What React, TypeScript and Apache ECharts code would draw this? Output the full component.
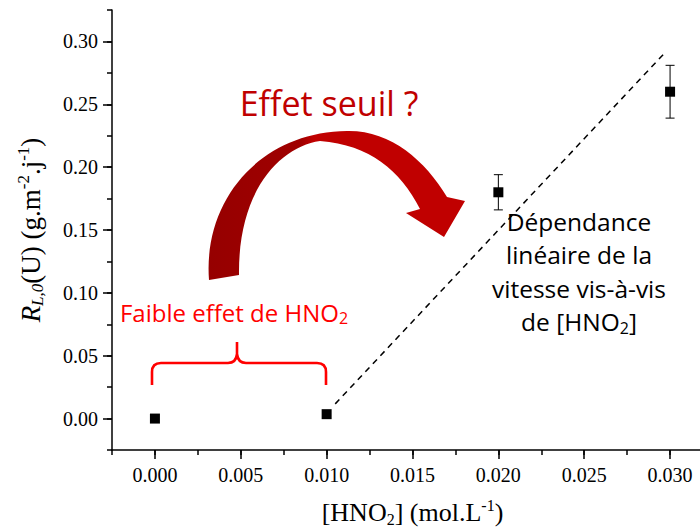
import React, { useEffect, useRef } from 'react';
import * as echarts from 'echarts';

// ---- data ----
const concentrations = [0.0, 0.01, 0.02, 0.03]; // [HNO2] mol/L
const rates = [0.0, 0.0035, 0.18, 0.26]; // R_L,0(U)
const rateErrors = [0, 0, 0.014, 0.021];
const trendX = [0.0105, 0.0296];
const trendY = [0.0117, 0.2896];

// axis extents
const X_MIN = -0.0025;
const X_MAX = 0.0325;
const Y_MIN = -0.025;
const Y_MAX = 0.325;
const X_MAJOR_MIN = 0;
const X_MAJOR_MAX = 0.03;
const Y_MAJOR_MIN = 0;
const Y_MAJOR_MAX = 0.3;

// layout
const GRID_LEFT = 112;
const GRID_TOP = 10;
const GRID_W = 601;
const GRID_H = 440;

const ARROW_D =
  'M209 280 C203 200 260 132 347 131 C390 130 425 160 447 197 L465 201 L444 237 L406 213 L420 209 C400 170 370 145 320 141 C280 147 238 190 239 275 Z';
const BRACE_D =
  'M152 385 L152 372 Q152 363 161 363 L228 363 Q236 363 237 354 L237 342 M237 354 Q238 363 246 363 L317 363 Q326 363 326 372 L326 385';

let registered = false;
function registerShapes() {
  if (registered) return;
  echarts.graphic.registerShape('curvedArrow', echarts.graphic.extendPath(ARROW_D, {}));
  echarts.graphic.registerShape('redBrace', echarts.graphic.extendPath(BRACE_D, {}));
  registered = true;
}

const SERIF = '"Liberation Serif", "Times New Roman", serif';
const SANS = '"Open Sans", Lato, sans-serif';

export default function App() {
  const ref = useRef<HTMLDivElement>(null);

  useEffect(() => {
    document.body.style.margin = '0';
    registerShapes();
    const chart = echarts.init(ref.current!, null, { renderer: 'svg' });

    const pxX = GRID_W / (X_MAX - X_MIN);
    const pxY = GRID_H / (Y_MAX - Y_MIN);
    const g2Left = GRID_LEFT + (X_MAJOR_MIN - X_MIN) * pxX;
    const g2Width = (X_MAJOR_MAX - X_MAJOR_MIN) * pxX;
    const g2Top = GRID_TOP + (Y_MAX - Y_MAJOR_MAX) * pxY;
    const g2Height = (Y_MAJOR_MAX - Y_MAJOR_MIN) * pxY;
    const xOffset = GRID_TOP + GRID_H - (g2Top + g2Height);
    const yOffset = g2Left - GRID_LEFT;

    const axisLineStyle = { color: '#000', width: 1.5 };

    const option: any = {
      animation: false,
      backgroundColor: '#fff',
      grid: [
        { left: GRID_LEFT, top: GRID_TOP, width: GRID_W, height: GRID_H, containLabel: false, outerBoundsMode: 'none' },
        { left: g2Left, top: g2Top, width: g2Width, height: g2Height, containLabel: false, outerBoundsMode: 'none' },
      ],
      xAxis: [
        {
          type: 'value',
          gridIndex: 0,
          min: X_MIN,
          max: X_MAX,
          interval: 0.0025,
          axisLine: { show: true, onZero: false, lineStyle: axisLineStyle },
          axisTick: { show: true, inside: false, length: 5, lineStyle: axisLineStyle },
          axisLabel: { show: false },
          splitLine: { show: false },
        },
        {
          type: 'value',
          gridIndex: 1,
          min: X_MAJOR_MIN,
          max: X_MAJOR_MAX,
          interval: 0.005,
          offset: xOffset,
          axisLine: { show: false, onZero: false },
          axisTick: { show: true, inside: false, length: 9, lineStyle: axisLineStyle },
          axisLabel: {
            show: true,
            margin: 15,
            fontFamily: SERIF,
            fontSize: 20,
            color: '#000',
            formatter: (v: number) => v.toFixed(3),
          },
          splitLine: { show: false },
          name: '{m|[HNO}{s|2}{m|] (mol.L}{p|-1}{m|)}',
          nameLocation: 'middle',
          nameGap: 47,
          nameTextStyle: {
            rich: {
              m: { fontFamily: SERIF, fontSize: 26, lineHeight: 30, color: '#000' },
              s: { fontFamily: SERIF, fontSize: 16, lineHeight: 16, verticalAlign: 'bottom', color: '#000' },
              p: { fontFamily: SERIF, fontSize: 16, lineHeight: 16, verticalAlign: 'top', color: '#000' },
            },
          },
        },
      ],
      yAxis: [
        {
          type: 'value',
          gridIndex: 0,
          min: Y_MIN,
          max: Y_MAX,
          interval: 0.025,
          axisLine: { show: true, onZero: false, lineStyle: axisLineStyle },
          axisTick: { show: true, inside: false, length: 5, lineStyle: axisLineStyle },
          axisLabel: { show: false },
          splitLine: { show: false },
          name: '{i|R}{is|L,0}{m|(U) (g.m}{p|-2}{m|.j}{p|-1}{m|)}',
          nameLocation: 'middle',
          nameRotate: 90,
          nameGap: 66,
          nameTextStyle: {
            rich: {
              i: { fontFamily: SERIF, fontStyle: 'italic', fontSize: 27, lineHeight: 31, color: '#000' },
              is: { fontFamily: SERIF, fontStyle: 'italic', fontSize: 17, lineHeight: 17, verticalAlign: 'bottom', color: '#000' },
              m: { fontFamily: SERIF, fontSize: 27, lineHeight: 31, color: '#000' },
              p: { fontFamily: SERIF, fontSize: 17, lineHeight: 17, verticalAlign: 'top', color: '#000' },
            },
          },
        },
        {
          type: 'value',
          gridIndex: 1,
          min: Y_MAJOR_MIN,
          max: Y_MAJOR_MAX,
          interval: 0.05,
          offset: yOffset,
          axisLine: { show: false, onZero: false },
          axisTick: { show: true, inside: false, length: 9, lineStyle: axisLineStyle },
          axisLabel: {
            show: true,
            margin: 14,
            fontFamily: SERIF,
            fontSize: 20,
            color: '#000',
            formatter: (v: number) => v.toFixed(2),
          },
          splitLine: { show: false },
        },
      ],
      series: [
        {
          type: 'line',
          xAxisIndex: 0,
          yAxisIndex: 0,
          data: trendX.map((x, i) => [x, trendY[i]]),
          symbol: 'none',
          lineStyle: { color: '#000', width: 1.5, type: [6, 5] },
          z: 2,
        },
        {
          type: 'custom',
          xAxisIndex: 0,
          yAxisIndex: 0,
          data: concentrations.map((c, i) => [c, rates[i], rateErrors[i]]),
          renderItem: (params: any, api: any) => {
            const x = api.value(0);
            const y = api.value(1);
            const e = api.value(2);
            if (!e) return null;
            const top = api.coord([x, y + e]);
            const bot = api.coord([x, y - e]);
            const hw = 4.5;
            const st = { stroke: '#000', lineWidth: 1 };
            return {
              type: 'group',
              children: [
                { type: 'line', shape: { x1: top[0], y1: top[1], x2: bot[0], y2: bot[1] }, style: st },
                { type: 'line', shape: { x1: top[0] - hw, y1: top[1], x2: top[0] + hw, y2: top[1] }, style: st },
                { type: 'line', shape: { x1: bot[0] - hw, y1: bot[1], x2: bot[0] + hw, y2: bot[1] }, style: st },
              ],
            };
          },
          z: 3,
        },
        {
          type: 'scatter',
          xAxisIndex: 0,
          yAxisIndex: 0,
          data: concentrations.map((c, i) => [c, rates[i]]),
          symbol: 'rect',
          symbolSize: 10,
          itemStyle: { color: '#000', opacity: 1 },
          z: 4,
        },
      ],
      graphic: [
        {
          type: 'curvedArrow',
          x: 0,
          y: 0,
          z: 10,
          style: {
            fill: new echarts.graphic.LinearGradient(0, 0, 1, 0, [
              { offset: 0, color: '#960000' },
              { offset: 0.36, color: '#a00000' },
              { offset: 0.41, color: '#c00000' },
              { offset: 1, color: '#c00000' },
            ]),
            stroke: 'none',
          },
        },
        {
          type: 'redBrace',
          x: 0,
          y: 0,
          z: 10,
          style: { fill: 'none', stroke: '#ff0000', lineWidth: 2.6 },
        },
        {
          type: 'text',
          x: 329,
          y: 102.5,
          z: 10,
          style: {
            text: 'Effet seuil ?',
            fill: '#c00000',
            font: `34px ${SANS}`,
            align: 'center',
            verticalAlign: 'middle',
          },
        },
        {
          type: 'text',
          x: 234,
          y: 312,
          z: 10,
          style: {
            text: '{m|Faible effet de HNO}{s|2}',
            align: 'center',
            verticalAlign: 'middle',
            rich: {
              m: { fontFamily: SANS, fontSize: 24, lineHeight: 28, fill: '#ff0000' },
              s: { fontFamily: SANS, fontSize: 16, lineHeight: 16, verticalAlign: 'bottom', fill: '#ff0000' },
            },
          },
        },
        ...['Dépendance', 'linéaire de la', 'vitesse vis-à-vis'].map((t, i) => ({
          type: 'text',
          x: 579,
          y: 221 + i * 33.5,
          z: 10,
          style: {
            text: t,
            fill: '#000',
            font: `24.5px ${SANS}`,
            align: 'center',
            verticalAlign: 'middle',
          },
        })),
        {
          type: 'text',
          x: 579,
          y: 221 + 3 * 33.5,
          z: 10,
          style: {
            text: '{m|de [HNO}{s|2}{m|]}',
            align: 'center',
            verticalAlign: 'middle',
            rich: {
              m: { fontFamily: SANS, fontSize: 24.5, lineHeight: 28, fill: '#000' },
              s: { fontFamily: SANS, fontSize: 16, lineHeight: 16, verticalAlign: 'bottom', fill: '#000' },
            },
          },
        },
      ],
    };

    chart.setOption(option);
    return () => chart.dispose();
  }, []);

  return <div ref={ref} style={{ width: 700, height: 529 }} />;
}
